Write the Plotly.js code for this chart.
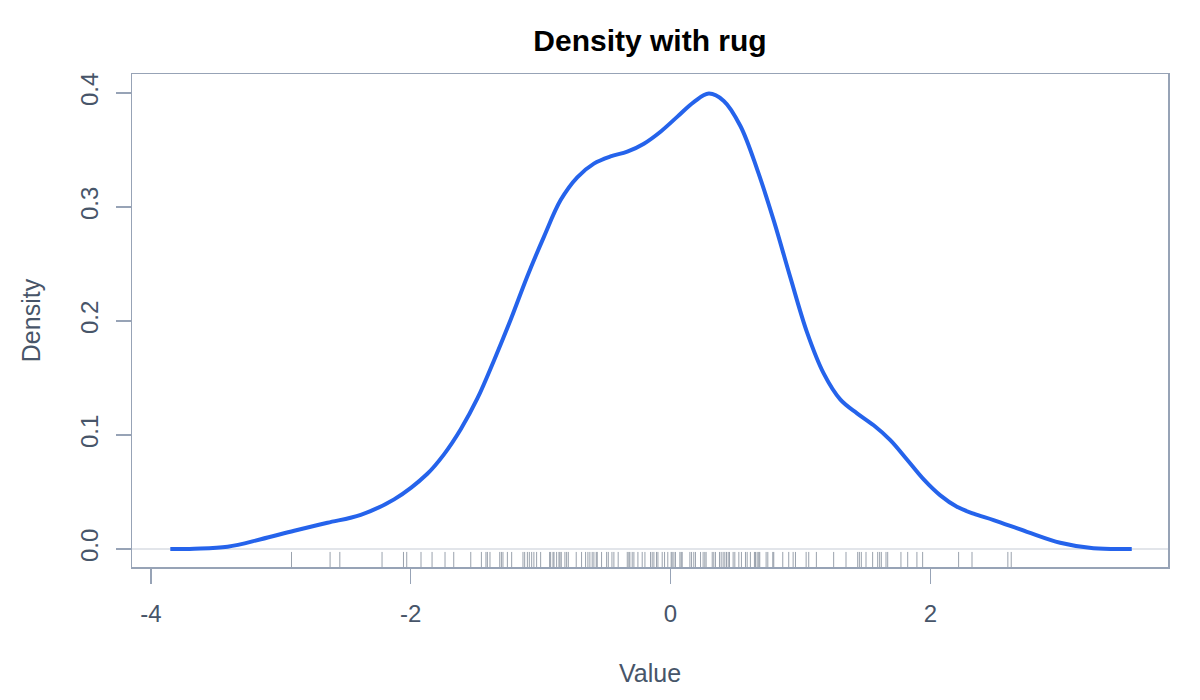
<!DOCTYPE html>
<html>
<head>
<meta charset="utf-8">
<script src="https://cdn.plot.ly/plotly-3.0.1.min.js"></script>
<style>
  html, body { margin: 0; padding: 0; background: #fff; }
  #chart { width: 1200px; height: 700px; }
</style>
</head>
<body>
<div id="chart"></div>
<script>
// density curve
var densX = [-3.851, -3.667, -3.41, -3.154, -2.897, -2.641, -2.385, -2.128, -1.872, -1.744,
    -1.615, -1.487, -1.359, -1.231, -1.103, -0.974, -0.846, -0.718, -0.59, -0.462,
    -0.333, -0.205, -0.077, 0.051, 0.179, 0.295, 0.41, 0.538, 0.667, 0.795,
    0.923, 1.051, 1.179, 1.308, 1.436, 1.564, 1.692, 1.82, 1.949, 2.077,
    2.205, 2.333, 2.487, 2.744, 3.0, 3.256, 3.551];
var densY = [0.0, 0.0003, 0.002, 0.0085, 0.016, 0.023, 0.030, 0.0435, 0.066, 0.083,
    0.105, 0.132, 0.1654, 0.201, 0.239, 0.274, 0.306, 0.326, 0.338, 0.3443,
    0.3485, 0.3555, 0.366, 0.379, 0.392, 0.3994, 0.393, 0.371, 0.333, 0.288,
    0.238, 0.19, 0.154, 0.131, 0.119, 0.1085, 0.0955, 0.0785, 0.061, 0.047,
    0.037, 0.031, 0.0254, 0.0151, 0.0055, 0.0006, 0.0];

// rug (sample values)
var rugValues = [-2.918, -2.621, -2.546, -2.221, -2.056, -2.031, -1.921, -1.836, -1.736, -1.669,
    -1.538, -1.456, -1.421, -1.410, -1.390, -1.315, -1.302, -1.290, -1.256, -1.223,
    -1.136, -1.123, -1.102, -1.087, -1.069, -1.052, -1.031, -1.000, -0.931, -0.923,
    -0.905, -0.897, -0.877, -0.859, -0.851, -0.841, -0.813, -0.800, -0.787, -0.726,
    -0.685, -0.654, -0.636, -0.621, -0.603, -0.590, -0.572, -0.564, -0.531, -0.492,
    -0.479, -0.451, -0.436, -0.403, -0.333, -0.321, -0.313, -0.295, -0.282, -0.251,
    -0.218, -0.197, -0.154, -0.141, -0.128, -0.108, -0.097, -0.064, -0.046, -0.021,
    0.005, 0.013, 0.026, 0.038, 0.072, 0.082, 0.090, 0.149, 0.162, 0.179,
    0.192, 0.231, 0.251, 0.264, 0.274, 0.321, 0.333, 0.346, 0.377, 0.390,
    0.405, 0.418, 0.431, 0.444, 0.454, 0.482, 0.495, 0.526, 0.546, 0.577,
    0.590, 0.615, 0.646, 0.654, 0.667, 0.679, 0.687, 0.736, 0.749, 0.787,
    0.795, 0.864, 0.910, 0.944, 0.962, 1.044, 1.064, 1.123, 1.256, 1.351,
    1.441, 1.454, 1.469, 1.505, 1.556, 1.595, 1.610, 1.623, 1.659, 1.672,
    1.774, 1.826, 1.897, 1.941, 2.218, 2.321, 2.597, 2.623];

var xTicks = [-4, -2, 0, 2];
var xTickText = ['-4', '-2', '0', '2'];
var yTicks = [0, 0.1, 0.2, 0.3, 0.4];
var yTickText = ['0.0', '0.1', '0.2', '0.3', '0.4'];

var yRange = [-0.0158, 0.4166];
var xRange = [-4.146, 3.83];

function makeChart(divId) {
    var axisCol = '#97a3b6';
    var textCol = '#475569';

    // rug segments: short ticks rising from the bottom of the box
    var rugTop = yRange[0] + 0.0132;
    var rx = [], ry = [];
    for (var i = 0; i < rugValues.length; i++) {
        rx.push(rugValues[i], rugValues[i], null);
        ry.push(yRange[0], rugTop, null);
    }

    var rug = {
        x: rx,
        y: ry,
        type: 'scatter',
        mode: 'lines',
        line: {color: 'rgba(71,85,105,0.55)', width: 1},
        hoverinfo: 'skip'
    };

    var dens = {
        x: densX,
        y: densY,
        type: 'scatter',
        mode: 'lines',
        line: {color: '#2563eb', width: 4, shape: 'spline', smoothing: 1}
    };

    var layout = {
        width: 1200,
        height: 700,
        showlegend: false,
        paper_bgcolor: '#fff',
        plot_bgcolor: '#fff',
        margin: {l: 132, r: 32, t: 74, b: 133},
        font: {family: 'Liberation Sans, Arial, sans-serif', color: textCol},
        title: {
            text: 'Density with rug',
            font: {size: 30, color: '#000', weight: 'bold'},
            x: 0.5, xref: 'paper', y: 1 - 40 / 700, yref: 'container', yanchor: 'middle'
        },
        xaxis: {
            range: xRange,
            tickvals: xTicks,
            ticktext: xTickText,
            ticks: 'outside', ticklen: 15, tickwidth: 1.5, tickcolor: axisCol,
            ticklabelstandoff: 10,
            showline: true, mirror: true, linecolor: axisCol, linewidth: 1.5,
            showgrid: false, zeroline: false,
            tickfont: {size: 24, color: textCol},
            title: {text: 'Value', font: {size: 25, color: textCol}, standoff: 38}
        },
        yaxis: {
            range: yRange,
            tickvals: yTicks,
            ticktext: yTickText,
            tickangle: -90,
            ticks: 'outside', ticklen: 15, tickwidth: 1.5, tickcolor: axisCol,
            ticklabelstandoff: 8,
            showline: true, mirror: true, linecolor: axisCol, linewidth: 1.5,
            showgrid: false,
            zeroline: true, zerolinecolor: '#e2e5ea', zerolinewidth: 1.2,
            tickfont: {size: 24, color: textCol},
            title: {text: 'Density', font: {size: 25, color: textCol}, standoff: 28}
        }
    };

    var config = {responsive: false, displayModeBar: false, staticPlot: true};
    Plotly.newPlot(divId, [rug, dens], layout, config);
}

makeChart('chart');
</script>
</body>
</html>
